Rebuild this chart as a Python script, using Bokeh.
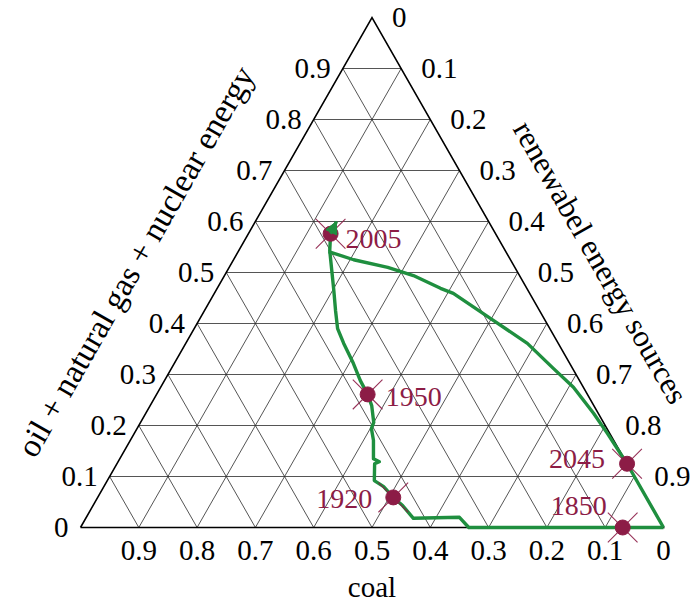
import math
import numpy as np
from bokeh.plotting import figure
from bokeh.models import Range1d, Arrow, NormalHead
from bokeh.core.properties import value
from bokeh.embed import file_html
from bokeh.resources import INLINE

# Primary energy mix, shares of (coal, oil + natural gas + nuclear, renewables)
hist_coal = [0.000, 0.070, 0.334, 0.340, 0.420, 0.426, 0.434, 0.440, 0.450,
             0.433, 0.423, 0.430, 0.412, 0.404, 0.394, 0.381, 0.377, 0.376,
             0.371, 0.368, 0.364, 0.350, 0.333, 0.317, 0.301, 0.283, 0.261]
hist_fossil = [0.000, 0.000, 0.000, 0.020, 0.018, 0.043, 0.059, 0.080, 0.092,
               0.125, 0.129, 0.135, 0.171, 0.194, 0.206, 0.239, 0.261, 0.288,
               0.322, 0.361, 0.390, 0.425, 0.465, 0.504, 0.543, 0.576, 0.600]
hist_renew = [1.000, 0.930, 0.666, 0.640, 0.562, 0.531, 0.507, 0.480, 0.458,
              0.442, 0.448, 0.435, 0.417, 0.402, 0.400, 0.380, 0.362, 0.336,
              0.307, 0.271, 0.246, 0.225, 0.202, 0.179, 0.156, 0.141, 0.139]

# Scenario from 2005 towards a fully renewable supply
scen_coal = [0.304, 0.269, 0.218, 0.182, 0.148, 0.131, 0.092, 0.053, 0.033,
             0.017, 0.008, 0.004, 0.000, 0.000]
scen_fossil = [0.541, 0.525, 0.510, 0.494, 0.469, 0.459, 0.410, 0.361, 0.312,
               0.275, 0.224, 0.184, 0.125, 0.000]
scen_renew = [0.155, 0.206, 0.272, 0.324, 0.383, 0.410, 0.498, 0.586, 0.655,
              0.708, 0.768, 0.812, 0.875, 1.000]

years = ["1850", "1920", "1950", "2005", "2045"]
year_coal = [0.070, 0.434, 0.377, 0.283, 0.000]
year_fossil = [0.000, 0.059, 0.261, 0.576, 0.125]
year_renew = [0.930, 0.507, 0.362, 0.141, 0.875]

tick_values = [0.0, 0.1, 0.2, 0.3, 0.4, 0.5, 0.6, 0.7, 0.8, 0.9]
tick_labels = ["0", "0.1", "0.2", "0.3", "0.4", "0.5", "0.6", "0.7", "0.8", "0.9"]
grid_steps = [0.1, 0.2, 0.3, 0.4, 0.5, 0.6, 0.7, 0.8, 0.9]

# screen geometry: pixels per unit along x and along the height axis
SX, SY = 583.0, 510.0
W, H = 695, 603
LEFT_PX, BASE_PX = 80.0, 527.0

GREEN = "#1f8f3f"
MAROON = "#8c1c46"
FONT = value("Liberation Serif")


def to_xy(coal, fossil, renew):
    c, f, r = (np.asarray(a, dtype=float) for a in (coal, fossil, renew))
    s = c + f + r
    f, r = f / s, r / s
    return r + 0.5 * f, f


def shift(x, y, dx_px, dy_px):
    return np.asarray(x) + dx_px / SX, np.asarray(y) - dy_px / SY


p = figure(width=W, height=H, output_backend="svg", toolbar_location=None,
           x_range=Range1d(-LEFT_PX / SX, (W - LEFT_PX) / SX),
           y_range=Range1d(-(H - BASE_PX) / SY, BASE_PX / SY),
           min_border=0)
p.axis.visible = False
p.grid.visible = False
p.outline_line_color = None
p.background_fill_color = "white"
p.border_fill_color = "white"

# grid lines parallel to each side
gx, gy = [], []
for v in grid_steps:
    gx.append([v / 2, 1 - v / 2]); gy.append([v, v])                  # constant fossil
    gx.append([v, v + (1 - v) / 2]); gy.append([0, 1 - v])             # constant renewables
    gx.append([1 - v, (1 - v) / 2]); gy.append([0, 1 - v])             # constant coal
p.multi_line(gx, gy, line_color="#2a2a2a", line_width=0.8)

# triangle
p.line([0, 1, 0.5, 0], [0, 0, 1, 0], line_color="black", line_width=1.6,
       line_join="miter")

# paths
hx, hy = to_xy(hist_coal, hist_fossil, hist_renew)
sx, sy = to_xy(scen_coal, scen_fossil, scen_renew)
p.line(hx, hy, line_color=GREEN, line_width=3.4, line_join="round")
p.line(sx, sy, line_color=GREEN, line_width=3.4, line_join="round")
p.add_layout(Arrow(end=NormalHead(size=12, fill_color=GREEN, line_color=GREEN),
                   x_start=hx[-2], y_start=hy[-2], x_end=hx[-1], y_end=hy[-1],
                   line_color=GREEN, line_width=3))

# marked years
yx, yy = to_xy(year_coal, year_fossil, year_renew)
p.scatter(yx, yy, marker="x", size=42, line_color=MAROON, line_width=1.1,
          line_alpha=0.9)
p.scatter(yx, yy, marker="circle", size=15, fill_color=MAROON,
          line_color=MAROON)

year_offsets = {"1850": (-16, -22, "right"), "1920": (-21, 2, "right"),
                "1950": (18, 3, "left"), "2005": (15, 5, "left"),
                "2045": (-22, -5, "right")}
for i, yr in enumerate(years):
    dx, dy, align = year_offsets[yr]
    tx, ty = shift(yx[i], yy[i], dx, dy)
    p.text([tx], [ty], text=[yr], text_font=FONT, text_font_size="28px",
           text_color=MAROON, text_align=align, text_baseline="middle")

tv = np.asarray(tick_values)
tick_style = dict(text_font=FONT, text_font_size="29px", text_color="black",
                  text_baseline="middle")
# left axis: oil + natural gas + nuclear
lx, ly = shift(tv / 2, tv, -12, 0)
p.text(lx, ly, text=tick_labels, text_align="right", **tick_style)
# right axis: renewables
rx, ry = shift(tv + (1 - tv) / 2, 1 - tv, 20, 0)
p.text(rx, ry, text=tick_labels, text_align="left", **tick_style)
# bottom axis: coal
bx, by = shift(1 - tv, np.zeros(len(tv)), 0, 23)
p.text(bx, by, text=tick_labels, text_align="center", **tick_style)

# axis titles
edge_angle = math.atan2(SY, SX / 2)
sn, cs = math.sin(edge_angle), math.cos(edge_angle)
t = 0.44
ltx, lty = shift([t / 2], [t], -84 * sn, -84 * cs)
p.text(ltx, lty, text=["oil + natural gas + nuclear energy"], text_font=FONT,
       text_font_size="33px", text_color="black", text_align="center",
       text_baseline="middle", angle=edge_angle)
t = 0.445
rtx, rty = shift([1 - t / 2], [t], 77 * sn, -77 * cs)
p.text(rtx, rty, text=["renewabel energy sources"], text_font=FONT,
       text_font_size="31px", text_color="black", text_align="center",
       text_baseline="middle", angle=-edge_angle)
ctx, cty = shift([0.5], [0.0], 0, 59)
p.text(ctx, cty, text=["coal"], text_font=FONT, text_font_size="29px",
       text_color="black", text_align="center", text_baseline="middle")

open("out.html", "w").write(file_html(p, INLINE))
